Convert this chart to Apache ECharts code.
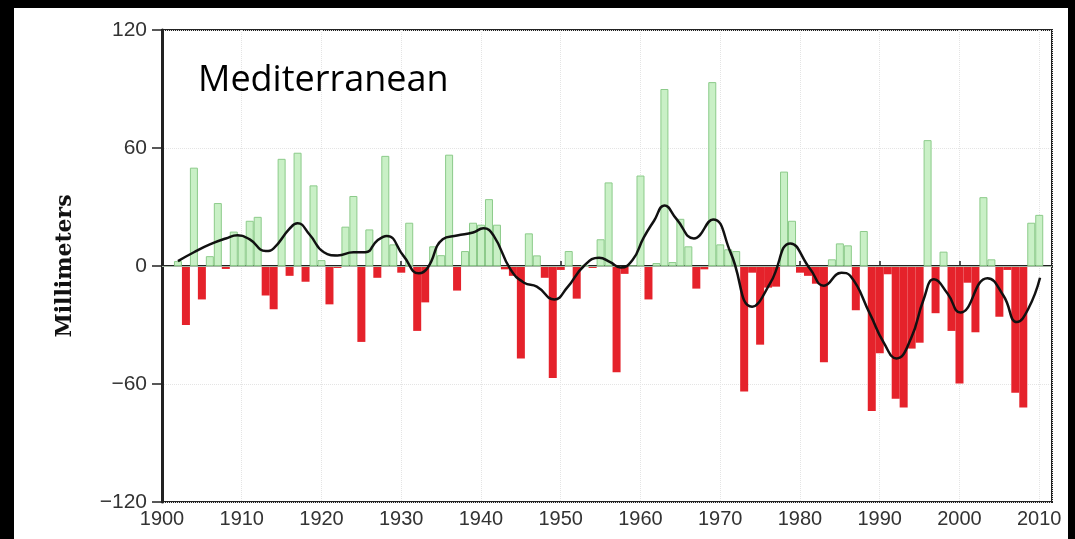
<!DOCTYPE html>
<html>
<head>
<meta charset="utf-8">
<script src="https://cdn.jsdelivr.net/npm/echarts@6/dist/echarts.min.js"></script>
<style>
  html, body { margin: 0; padding: 0; background: #000; }
  #paper { position: absolute; left: 14px; top: 8px; width: 1054px; height: 531px; background: #fff; }
  #chart { position: absolute; left: 0; top: 0; width: 1075px; height: 539px; }
</style>
</head>
<body>
<div id="paper"></div>
<div id="chart"></div>
<script>
// yearly anomalies (mm)
const years = [
  1902, 1903, 1904, 1905, 1906, 1907, 1908, 1909, 1910,
  1911, 1912, 1913, 1914, 1915, 1916, 1917, 1918, 1919, 1920,
  1921, 1922, 1923, 1924, 1925, 1926, 1927, 1928, 1929, 1930,
  1931, 1932, 1933, 1934, 1935, 1936, 1937, 1938, 1939, 1940,
  1941, 1942, 1943, 1944, 1945, 1946, 1947, 1948, 1949, 1950,
  1951, 1952, 1953, 1954, 1955, 1956, 1957, 1958, 1959, 1960,
  1961, 1962, 1963, 1964, 1965, 1966, 1967, 1968, 1969, 1970,
  1971, 1972, 1973, 1974, 1975, 1976, 1977, 1978, 1979, 1980,
  1981, 1982, 1983, 1984, 1985, 1986, 1987, 1988, 1989, 1990,
  1991, 1992, 1993, 1994, 1995, 1996, 1997, 1998, 1999, 2000,
  2001, 2002, 2003, 2004, 2005, 2006, 2007, 2008, 2009, 2010
];
const anomaly = [
  2.5, -30, 50, -17, 5, 32, -1.5, 17.5, 15.5,
  23, 25, -15, -22, 54.5, -5, 57.6, -8, 41, 3,
  -19.5, -1, 20, 35.6, -38.6, 18.6, -6, 56, 11, -3.4,
  22, -33, -18.5, 10, 5.5, 56.6, -12.5, 7.6, 22, 21,
  34, 21, -1.7, -5, -47, 16.6, 5.4, -6, -57, -2,
  7.6, -16.6, 0.5, -1, 13.6, 42.5, -54, -4, 0, 46,
  -17, 1.5, 90, 2, 24, 10, -11.5, -1.7, 93.5, 11,
  8.5, 7.6, -63.8, -3.4, -40, -11, -10.5, 48, 23, -3.4,
  -5, -9, -49, 3.4, 11.5, 10.5, -22.5, 17.8, -73.7, -44.4,
  -4.2, -67.5, -72, -42, -39, 64, -24, 7.3, -33, -59.7,
  -8.5, -33.7, 35, 3.4, -25.8, -2, -64.4, -72, 22, 26
];

// smoothed curve
const smoothYears = [
  1902, 1904, 1906, 1908, 1909.5, 1911, 1913, 1914, 1916, 1917,
  1918.5, 1920.3, 1922, 1924, 1925.5, 1927, 1928.2, 1930.3, 1932.2, 1933.3,
  1935.2, 1937, 1939, 1940.3, 1941.6, 1943.7, 1945.4, 1947, 1949.2, 1950.8,
  1952.9, 1954.8, 1956.2, 1957.5, 1959, 1960.4, 1961.7, 1963, 1964.5, 1966.7,
  1969.1, 1971.3, 1974, 1976.3, 1978.8, 1981.3, 1983, 1985.2, 1986.3, 1988.8,
  1990.5, 1992.1, 1993.9, 1995.5, 1996.8, 1998.5, 2000.1, 2003.5, 2005.5, 2007.2,
  2008.6, 2010.1
];
const smoothValues = [
  2.5, 7, 11, 14, 15.6, 13.5, 7.6, 9, 19, 21.7,
  16, 7, 5.4, 7, 7, 13, 15.3, 5, -3.7, -1,
  13.6, 15.5, 17, 19.2, 15.3, -1.7, -8.5, -10.5, -17, -11,
  0, 4.2, 2, -0.8, 3, 14.4, 23, 30.8, 24, 14,
  23.7, 6.8, -20.7, -8.5, 11.5, -1.7, -10, -3.4, -5, -24.6,
  -39, -47, -37, -17, -6.8, -14, -23.7, -6.2, -15, -28.5,
  -22, -6
];

const yTicks = { min: -120, max: 120, step: 60 };
const xTicks = { min: 1900, max: 2011.6, step: 10 };

const barData = years.map((y, i) => ({
  value: [y, anomaly[i]],
  itemStyle: anomaly[i] >= 0
    ? { color: '#c9f0c6', borderColor: '#8ccb8a', borderWidth: 1 }
    : { color: '#e5222b', borderColor: '#e5222b', borderWidth: 0 }
}));
const lineData = smoothYears.map((y, i) => [y, smoothValues[i]]);

const chart = echarts.init(document.getElementById('chart'));
chart.setOption({
  backgroundColor: 'transparent',
  animation: false,
  title: {
    text: 'Mediterranean',
    left: 193,
    top: 58,
    textStyle: { fontFamily: 'Open Sans', fontSize: 36, fontWeight: 'normal', color: '#000' }
  },
  grid: {
    left: 162, right: 23, top: 30, bottom: 37,
    show: true, borderColor: '#222', borderWidth: 2, backgroundColor: 'transparent'
  },
  xAxis: {
    type: 'value',
    min: xTicks.min, max: xTicks.max, interval: xTicks.step,
    axisLine: { show: true, lineStyle: { color: '#222', width: 2 } },
    axisTick: { show: true, inside: true, length: 5, lineStyle: { color: '#222', width: 1.5 } },
    axisLabel: {
      margin: 7, color: '#333', fontFamily: 'Liberation Sans', fontSize: 20,
      showMaxLabel: false,
      formatter: v => String(v)
    },
    splitLine: { show: true, lineStyle: { color: '#e4e4e4', type: 'dotted', width: 1 } }
  },
  yAxis: {
    type: 'value',
    min: yTicks.min, max: yTicks.max, interval: yTicks.step,
    name: 'Millimeters',
    nameLocation: 'middle',
    nameGap: 86,
    nameTextStyle: { fontFamily: 'DejaVu Serif', fontWeight: 'bold', fontSize: 22, color: '#111' },
    axisLine: { show: true, lineStyle: { color: '#222', width: 3 } },
    axisTick: { show: true, inside: false, length: 10, lineStyle: { color: '#222', width: 1.5 } },
    axisLabel: {
      margin: 15, color: '#333', fontFamily: 'Liberation Sans', fontSize: 21,
      formatter: v => String(v).replace('-', '\u2212')
    },
    splitLine: { show: true, lineStyle: { color: '#e4e4e4', type: 'dotted', width: 1 } }
  },
  series: [
    {
      type: 'bar',
      barWidth: 8,
      data: barData,
      markLine: {
        silent: true,
        symbol: 'none',
        label: { show: false },
        lineStyle: { color: '#a8b8a8', type: 'solid', width: 1 },
        data: [{ yAxis: 0 }]
      }
    },
    {
      type: 'line',
      data: lineData,
      smooth: 0.5,
      showSymbol: false,
      lineStyle: { color: '#111', width: 2.5 },
      z: 5
    }
  ]
});
</script>
</body>
</html>
